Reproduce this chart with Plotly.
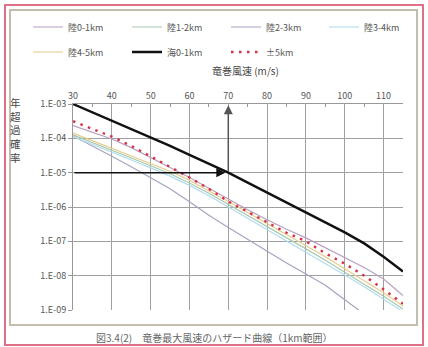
import plotly.graph_objects as go

# ---- data ----
wind_speed = [30, 35, 40, 45, 50, 55, 60, 65, 70, 75, 80, 85, 90, 95, 100, 105, 110, 115]

# log10 of annual exceedance probability
land_0_1 = [-3.63, -3.82, -4.02, -4.27, -4.55, -4.85, -5.14, -5.45, -5.78, -6.08, -6.37, -6.65, -6.90, -7.18, -7.46, -7.76, -8.10, -8.58]
land_1_2 = [-3.90, -4.12, -4.35, -4.57, -4.80, -5.03, -5.30, -5.60, -5.92, -6.25, -6.57, -6.90, -7.22, -7.55, -7.90, -8.24, -8.60, -8.97]
land_2_3 = [-3.93, -4.22, -4.52, -4.83, -5.15, -5.47, -5.85, -6.24, -6.60, -6.95, -7.30, -7.63, -7.95, -8.28, -8.70, -9.12, None, None]
land_3_4 = [-3.95, -4.17, -4.40, -4.63, -4.86, -5.10, -5.37, -5.67, -6.00, -6.33, -6.65, -6.98, -7.30, -7.63, -7.98, -8.32, -8.68, -9.05]
land_4_5 = [-3.85, -4.07, -4.30, -4.52, -4.74, -4.96, -5.22, -5.52, -5.84, -6.16, -6.48, -6.80, -7.12, -7.45, -7.80, -8.14, -8.50, -8.88]
sea_0_1 = [-3.00, -3.24, -3.48, -3.72, -3.96, -4.22, -4.48, -4.74, -5.00, -5.29, -5.58, -5.88, -6.17, -6.46, -6.74, -7.06, -7.45, -7.88]
pm_5km = [-3.50, -3.72, -3.95, -4.22, -4.52, -4.83, -5.14, -5.47, -5.84, -6.14, -6.44, -6.75, -7.00, -7.35, -7.65, -8.00, -8.40, -8.82]

series_names = ["陸0-1km", "陸1-2km", "陸2-3km", "陸3-4km", "陸4-5km", "海0-1km", "±5km"]
series_values = [land_0_1, land_1_2, land_2_3, land_3_4, land_4_5, sea_0_1, pm_5km]

y_tick_vals = [1e-3, 1e-4, 1e-5, 1e-6, 1e-7, 1e-8, 1e-9]
y_tick_text = ["1.E-03", "1.E-04", "1.E-05", "1.E-06", "1.E-07", "1.E-08", "1.E-09"]
x_tick_vals = [30, 40, 50, 60, 70, 80, 90, 100, 110]

design_speed = 70
design_prob = 1e-5

# ---- styles ----
styles = [
    dict(color="#b8a0c0", width=1.2, dash="solid"),
    dict(color="#a8c8b0", width=1.2, dash="solid"),
    dict(color="#a4a4c0", width=1.2, dash="solid"),
    dict(color="#b0dcee", width=1.2, dash="solid"),
    dict(color="#e8cc88", width=1.2, dash="solid"),
    dict(color="#111111", width=2.4, dash="solid"),
    dict(color="#d83048", width=2.4, dash="2.5px,5.5px"),
]
# legend entry positions (pixel x of entry start, pixel y of row centre)
legend_pos = [(28, 27), (127, 27), (226, 27), (324, 27), (28, 52), (127, 52), (226, 52)]

W, H = 428, 347
L, R, T, B = 73, 25, 104, 37
pw, ph = W - L - R, H - T - B


def px2paper_x(px):
    return (px - L) / pw


def px2paper_y(py):
    return (H - B - py) / ph


font_jp = "Noto Sans CJK JP, sans-serif"

fig = go.Figure()
legend_layouts = {}
for i, (name, vals, st) in enumerate(zip(series_names, series_values, styles)):
    lname = "legend" if i == 0 else f"legend{i + 1}"
    fig.add_trace(go.Scatter(
        x=wind_speed,
        y=[None if v is None else 10 ** v for v in vals],
        mode="lines", name=name,
        line=dict(color=st["color"], width=st["width"], dash=st["dash"]),
        legend=lname,
        hoverinfo="skip",
    ))
    lx, ly = legend_pos[i]
    legend_layouts[lname] = dict(
        x=px2paper_x(lx), y=px2paper_y(ly), xanchor="left", yanchor="middle",
        orientation="h", font=dict(family=font_jp, size=9, color="#555"),
        bgcolor="rgba(0,0,0,0)", borderwidth=0, itemwidth=30,
    )

fig.update_layout(
    width=W, height=H,
    margin=dict(l=L, r=R, t=T, b=B, autoexpand=False),
    paper_bgcolor="white", plot_bgcolor="white",
    font=dict(family=font_jp, size=9, color="#555"),
    xaxis=dict(
        range=[30, 115], side="top", tickvals=x_tick_vals,
        showgrid=True, gridcolor="#a0a0a0", gridwidth=1,
        showline=True, linecolor="#999", linewidth=1,
        ticks="", tickfont=dict(size=9, color="#555"),
        minor=dict(tickvals=[35, 45, 55, 65, 75, 85, 95, 105], ticks="inside", ticklen=3,
                   tickcolor="#999", showgrid=False),
        zeroline=False, fixedrange=True, automargin=False,
    ),
    yaxis=dict(
        type="log", range=[-9, -3], tickvals=y_tick_vals, ticktext=y_tick_text,
        showgrid=True, gridcolor="#a0a0a0", gridwidth=1,
        showline=True, linecolor="#999", linewidth=1,
        ticks="outside", ticklen=4, tickcolor="#999",
        tickfont=dict(size=9, color="#555"),
        zeroline=False, fixedrange=True, automargin=False,
    ),
    showlegend=True,
    **legend_layouts,
)

annotations = [
    # x-axis title
    dict(text="竜巻風速 (m/s)", xref="paper", yref="paper",
         x=px2paper_x(245), y=px2paper_y(70), xanchor="center", yanchor="middle",
         showarrow=False, font=dict(family=font_jp, size=10, color="#444")),
    # y-axis title (stacked vertical)
    dict(text="年<br>超<br>過<br>確<br>率", xref="paper", yref="paper",
         x=px2paper_x(15), y=px2paper_y(93), xanchor="center", yanchor="top",
         showarrow=False, font=dict(family=font_jp, size=10.5, color="#444")),
    # caption
    dict(text="図3.4(2)　竜巻最大風速のハザード曲線（1km範囲）", xref="paper", yref="paper",
         x=px2paper_x(214), y=px2paper_y(337), xanchor="center", yanchor="middle",
         showarrow=False, font=dict(family=font_jp, size=10, color="#666")),
    # horizontal arrow to the curve
    dict(x=design_speed, y=-5, ax=30, ay=-5, xref="x", yref="y", axref="x", ayref="y",
         text="", showarrow=True, arrowhead=2, arrowsize=1.2, arrowwidth=1.5,
         arrowcolor="#111", standoff=3),
    # vertical arrow up to the axis
    dict(x=design_speed, y=-3.04, ax=design_speed, ay=-5, xref="x", yref="y",
         axref="x", ayref="y", text="", showarrow=True, arrowhead=2, arrowsize=1.2,
         arrowwidth=1.5, arrowcolor="#555"),
]
fig.update_layout(annotations=annotations)

shapes = [
    # outer pink frame
    dict(type="rect", xref="paper", yref="paper",
         x0=px2paper_x(5), x1=px2paper_x(423), y0=px2paper_y(345), y1=px2paper_y(5),
         line=dict(color="#e07088", width=2), fillcolor="rgba(0,0,0,0)", layer="below"),
    # inner frame
    dict(type="rect", xref="paper", yref="paper",
         x0=px2paper_x(10), x1=px2paper_x(417), y0=px2paper_y(325), y1=px2paper_y(10),
         line=dict(color="#c4bcac", width=2), fillcolor="rgba(0,0,0,0)", layer="below"),
]
fig.update_layout(shapes=shapes)

fig.write_html(
    "out.html",
    config={"displayModeBar": False},
    post_script="document.body.style.margin='0px';document.body.style.overflow='hidden';",
)
